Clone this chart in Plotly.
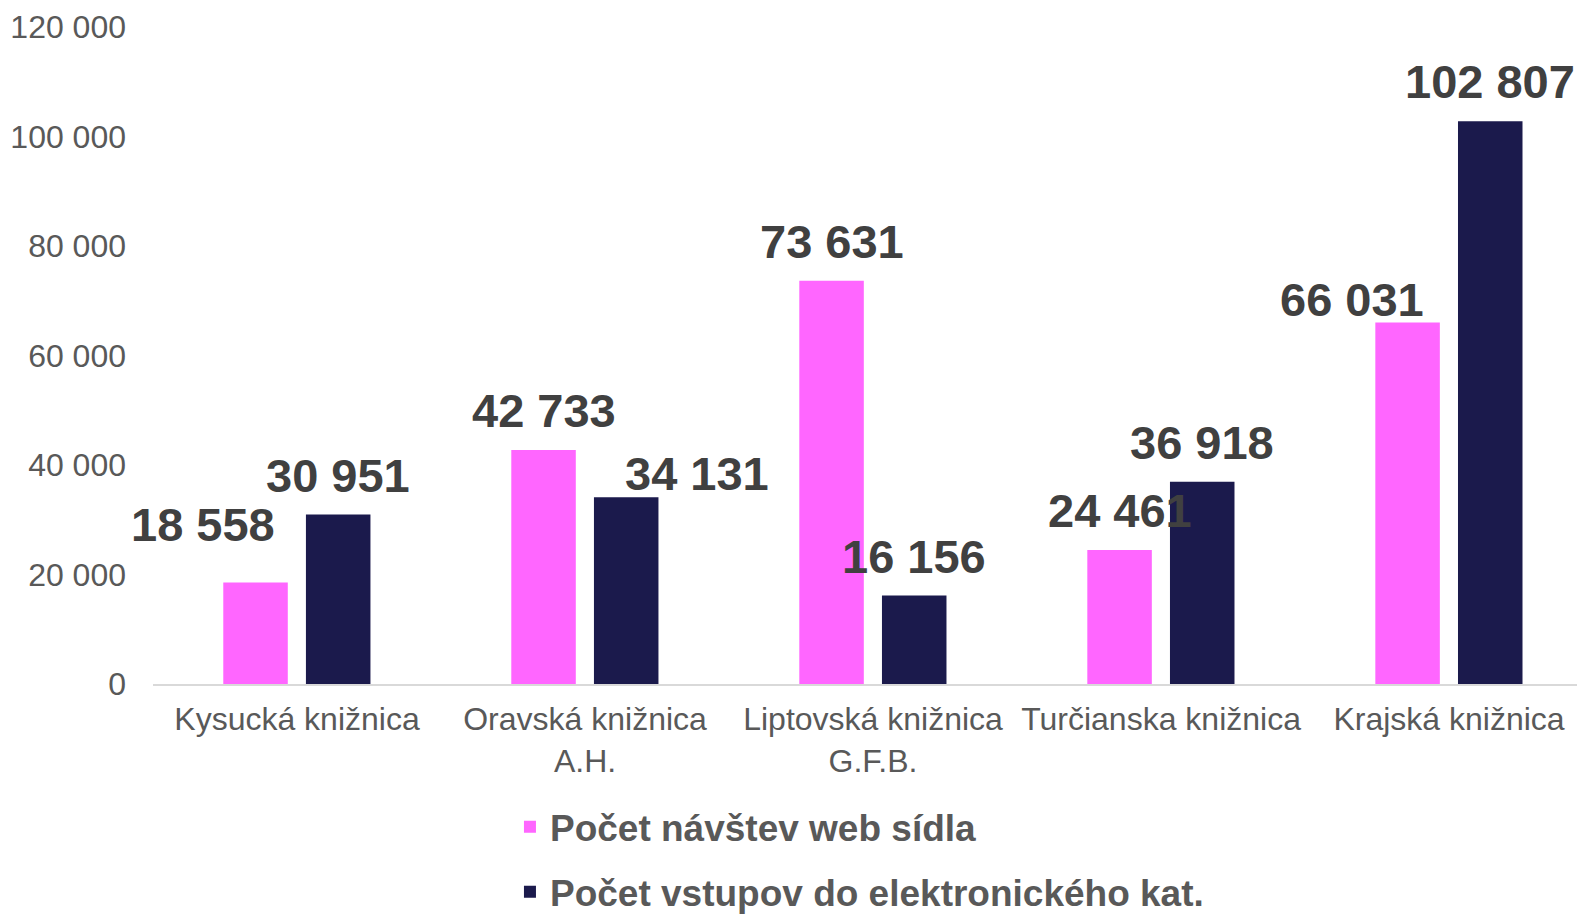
import plotly.graph_objects as go

categories = ["Kysucká knižnica", "Oravská knižnica<br>A.H.", "Liptovská knižnica<br>G.F.B.",
              "Turčianska knižnica", "Krajská knižnica"]
series_names = ["Počet návštev web sídla", "Počet vstupov do elektronického kat."]
web_visits = [18558, 42733, 73631, 24461, 66031]
catalog_entries = [30951, 34131, 16156, 36918, 102807]
y_ticks = [0, 20000, 40000, 60000, 80000, 100000, 120000]

PINK = "#FF66FF"
NAVY = "#1B1A4C"
FONT = "Arial, Liberation Sans, sans-serif"
BAR_W = 0.224
OFFSETS = [-0.256, 0.031]
LABEL_YSHIFT = 11
# manual label nudges (series index, category index) -> (dx px, dy px), as in the original
LABEL_NUDGE = {(0, 0): (-53, 18), (1, 1): (71, -16), (0, 4): (-56, -17)}

def fmt(v):
    return f"{v:,}".replace(",", " ")

fig = go.Figure()
for s, (name, vals, color, off) in enumerate([(series_names[0], web_visits, PINK, OFFSETS[0]),
                                              (series_names[1], catalog_entries, NAVY, OFFSETS[1])]):
    fig.add_trace(go.Bar(
        x=categories, y=vals, name=name,
        marker=dict(color=color, line=dict(width=0)),
        width=BAR_W, offset=off, legendgroup=f"g{s}",
    ))
    # value labels, placed on the bar centres through the axis scales
    for i, v in enumerate(vals):
        dx, dy = LABEL_NUDGE.get((s, i), (0, 0))
        fig.add_annotation(
            x=i + off + BAR_W / 2, y=v, xref="x", yref="y",
            text=fmt(v), showarrow=False, yanchor="bottom", xanchor="center",
            xshift=dx, yshift=LABEL_YSHIFT + dy,
            font=dict(family=FONT, size=47, color="#404040", weight="bold"),
        )

fig.update_layout(
    width=1577, height=908,
    barmode="overlay",
    separators=". ",
    plot_bgcolor="white", paper_bgcolor="white",
    margin=dict(l=145, r=0, t=19, b=232, autoexpand=False),
    font=dict(family=FONT, color="#595959"),
    xaxis=dict(
        range=[-0.5, 4.472],
        showline=True, linecolor="#D9D9D9", linewidth=2,
        showgrid=False, zeroline=False, ticks="",
        tickfont=dict(size=32, color="#595959"),
        tickangle=0, automargin=False,
        ticklabelstandoff=6,
    ),
    yaxis=dict(
        range=[0, 120000], tickvals=y_ticks, tickformat=",d",
        showline=False, showgrid=False, zeroline=False, ticks="",
        tickfont=dict(size=32, color="#595959"),
        automargin=False,
        ticklabelstandoff=26,
    ),
    legend=dict(
        xref="container", yref="container",
        x=0.3183, xanchor="left", y=0.132, yanchor="top",
        traceorder="grouped", tracegroupgap=14,
        font=dict(size=37, color="#595959", weight="bold"),
        bgcolor="rgba(0,0,0,0)",
    ),
    showlegend=True,
)

fig.write_html("out.html")
